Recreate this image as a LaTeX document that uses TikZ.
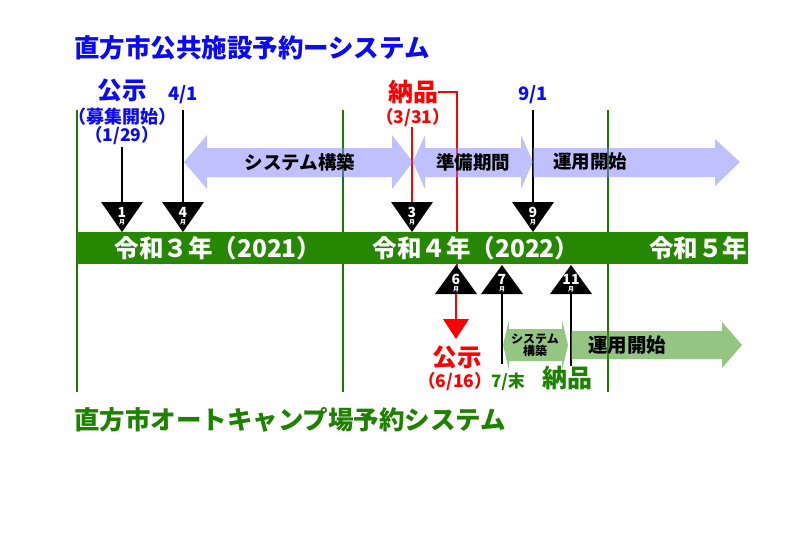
\documentclass[tikz,border=0pt]{standalone}
\usepackage{fontspec}
\setmainfont{Noto Sans CJK JP}
\usetikzlibrary{calc}
\definecolor{ttlblue}{RGB}{10,10,245}
\definecolor{barg}{RGB}{38,136,0}
\definecolor{txtg}{RGB}{30,130,0}
\definecolor{lineg}{RGB}{30,120,0}
\definecolor{lav}{RGB}{130,130,255}
\definecolor{lgreen}{RGB}{60,150,30}
\definecolor{myred}{RGB}{255,0,0}
\tikzset{
  every node/.style={inner sep=0pt,outer sep=0pt},
  fs/.style={font=\bfseries\fontsize{#1}{#1}\selectfont},
  ttl/.style={fs=25.5,anchor=west},
  vline/.style={draw=lineg,line width=1.5pt},
  blk/.style={draw=black,line width=1.4pt},
  redl/.style={draw=myred,line width=2.6pt},
  lavarrow/.style={fill=lav,fill opacity=0.5},
  grarrow/.style={fill=lgreen,fill opacity=0.55},
  bartxt/.style={fs=24.5,text=white},
  mnum/.style={fs=14,text=white},
  mtsu/.style={fs=6,text=white},
}
\begin{document}
\begin{tikzpicture}[x=1pt,y=-1pt]
\useasboundingbox (0,0) rectangle (800,552);
% titles
\node[ttl,text=ttlblue] (t1) at (74,48) {直方市公共施設予約ーシステム};
\node[ttl,text=txtg] (t2) at (74,420) {直方市オートキャンプ場予約システム};
% green year separators
\coordinate (g1a) at (77,110); \coordinate (g1b) at (77,392);
\coordinate (g2a) at (343,110); \coordinate (g2b) at (343,392);
\coordinate (g3a) at (608,110); \coordinate (g3b) at (608,392);
\draw[vline] (g1a) -- (g1b);
\draw[vline] (g2a) -- (g2b);
\draw[vline] (g3a) -- (g3b);
% triangle tops / bases
\coordinate (m1) at (122,202);
\coordinate (m4) at (183,202);
\coordinate (m3) at (412,202);
\coordinate (m9) at (533,202);
\coordinate (u6) at (456,294);
\coordinate (u7) at (502,294);
\coordinate (u11) at (571,294);
% labels top
\node[fs=24.5,text=ttlblue] (koji1) at (122,90) {公示};
\node[fs=18,text=ttlblue] (boshu) at (122,117) {（募集開始）};
\node[fs=17.5,text=ttlblue] (d129) at (122,136) {（1/29）};
\node[fs=18.5,text=ttlblue] (d41) at (183,95) {4/1};
\node[fs=18.5,text=ttlblue] (d91) at (533,95) {9/1};
\node[fs=25,text=myred] (nohin1) at (413,92) {納品};
\node[fs=17.5,text=myred] (d331) at (413,118) {（3/31）};
% connector lines (top)
\coordinate (c1) at (122,147);
\coordinate (c4) at (183,110);
\coordinate (c9) at (533,110);
\coordinate (c3) at (412,127);
\draw[blk] (c1) -- (m1);
\draw[blk] (c4) -- (m4);
\draw[blk] (c9) -- (m9);
\draw[redl] (c3) -- (m3);
\coordinate (rA) at (438,92);
\coordinate (rB) at (457,92);
\coordinate (rC) at (457,268);
\draw[redl] (rA) -- (rB) -- (rC);
% lower connectors
\coordinate (c7) at (502,364);
\coordinate (c11) at (571,366);
\draw[blk] (u7) -- (c7);
\draw[blk] (u11) -- (c11);
% lavender arrows
\fill[lavarrow] (184,162) -- (207,135) -- (207,148) -- (392,148) -- (392,135) -- (413,162)
   -- (392,189) -- (392,177) -- (207,177) -- (207,189) -- cycle;
\fill[lavarrow] (413,162) -- (425,135) -- (425,148) -- (521,148) -- (521,135) -- (533,162)
   -- (521,189) -- (521,177) -- (425,177) -- (425,189) -- cycle;
\fill[lavarrow] (533,148) -- (715,148) -- (715,139) -- (740,162) -- (715,186) -- (715,177)
   -- (533,177) -- cycle;
\node[fs=18.5] (a1) at (300,162) {システム構築};
\node[fs=18.5] (a2) at (473,162) {準備期間};
\node[fs=18.5] (a3) at (590,162) {運用開始};
% green arrows
\fill[grarrow] (503,345) -- (509,320) -- (509,329) -- (562,329) -- (562,320) -- (568,345)
   -- (562,370) -- (562,361) -- (509,361) -- (509,370) -- cycle;
\fill[grarrow] (571,331) -- (722,331) -- (722,322) -- (742,345) -- (722,368) -- (722,359)
   -- (571,359) -- cycle;
\node[fs=12,align=center] (b1) at (535,345) {システム\\[0.5pt]構築};
\node[fs=19.5] (b2) at (627,345) {運用開始};
% bar
\fill[barg] (77,232) rectangle (748,264);
\node[bartxt] (y3) at (218,248) {令和３年（2021）};
\node[bartxt] (y4) at (476,248) {令和４年（2022）};
\node[bartxt] (y5) at (698,248) {令和５年};
% down triangles
\foreach \n/\c in {1/m1,4/m4,3/m3,9/m9}{
  \fill[black] ($(\c)+(-21,0)$) -- ($(\c)+(21,0)$) -- ($(\c)+(0,30)$) -- cycle;
  \node[mnum] at ($(\c)+(0,10)$) {\n};
  \node[mtsu] at ($(\c)+(0,20)$) {月};
}
% up triangles
\foreach \n/\c in {6/u6,7/u7,11/u11}{
  \fill[black] ($(\c)+(-21,0)$) -- ($(\c)+(21,0)$) -- ($(\c)+(0,-29)$) -- cycle;
  \node[mnum] at ($(\c)+(0,-15)$) {\n};
  \node[mtsu] at ($(\c)+(0,-5)$) {月};
}
% red arrow down
\coordinate (rD) at (456,319);
\coordinate (rE) at (456,339);
\draw[redl] (u6) -- (rD);
\fill[myred] ($(rD)+(-13,0)$) -- ($(rD)+(13,0)$) -- (rE) -- cycle;
% lower labels
\node[fs=24.5,text=myred] (koji2) at (457,357) {公示};
\node[fs=17.5,text=myred] (d616) at (455,382) {（6/16）};
\node[fs=17,text=txtg] (d7) at (508,382) {7/末};
\node[fs=25,text=txtg] (nohin2) at (567,378) {納品};
\end{tikzpicture}
\end{document}
